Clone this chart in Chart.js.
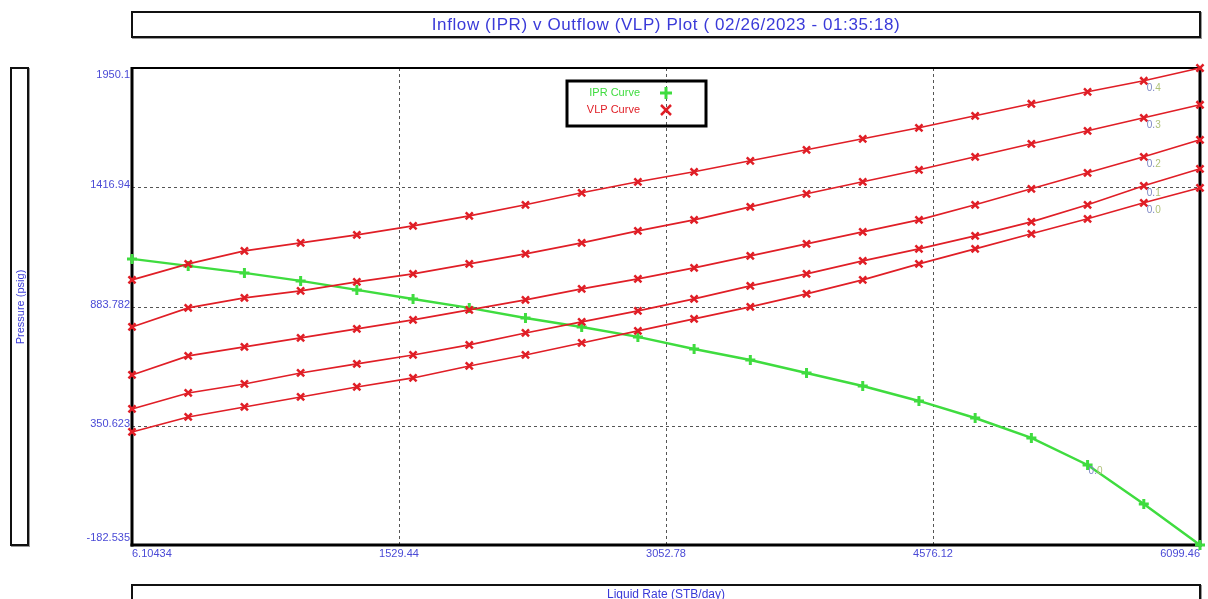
<!DOCTYPE html>
<html><head><meta charset="utf-8">
<script src="https://cdn.jsdelivr.net/npm/chart.js@4/dist/chart.umd.min.js"></script>
<style>
body{margin:0;background:#fff;width:1208px;height:599px;overflow:hidden;position:relative;font-family:"Liberation Sans",Arial,sans-serif;}
#c{position:absolute;left:0;top:0;}
.box{position:absolute;border:2px solid #111;box-shadow:1px 1px 0 #999;background:#fff;color:#3a3ad8;text-align:center;box-sizing:border-box;}
#title{left:131px;top:11px;width:1070px;height:27px;font-size:17px;letter-spacing:0.6px;line-height:23px;}
#ytitle{left:10px;top:67px;width:19px;height:479px;}
#ytitle span{position:absolute;left:50%;top:50%;transform:translate(-50%,-50%) rotate(-90deg);font-size:11px;white-space:nowrap;}
#xtitle{left:131px;top:584px;width:1070px;height:22px;font-size:12px;line-height:16px;}
</style></head>
<body>
<canvas id="c" width="1208" height="599"></canvas>
<div id="title" class="box">Inflow (IPR) v Outflow (VLP) Plot ( 02/26/2023 - 01:35:18)</div>
<div id="ytitle" class="box"><span>Pressure (psig)</span></div>
<div id="xtitle" class="box">Liquid Rate (STB/day)</div>
<script>
// ---- data ----
const liquidRates = [6.10, 326.81, 647.51, 968.21, 1288.92, 1609.62, 1930.32, 2251.03, 2571.73, 2892.43,
  3213.13, 3533.84, 3854.54, 4175.24, 4495.95, 4816.65, 5137.35, 5458.06, 5778.76, 6099.46];
const iprPressure = [1096.7, 1065.4, 1034.1, 998.3, 958.1, 917.8, 877.6, 832.8, 792.6, 747.9,
  694.2, 645.0, 586.8, 528.7, 461.6, 385.5, 296.1, 175.3, 0.9, -182.5];
const vlp04 = [1002.8, 1074.4, 1132.5, 1168.3, 1204.1, 1244.4, 1289.1, 1338.3, 1392.0, 1441.2,
  1485.9, 1535.1, 1584.3, 1633.5, 1682.7, 1736.4, 1790.1, 1843.7, 1892.9, 1950.1];
const vlp03 = [792.6, 877.6, 922.3, 953.6, 993.9, 1029.6, 1074.4, 1119.1, 1168.3, 1222.0,
  1271.2, 1329.3, 1387.5, 1441.2, 1494.8, 1553.0, 1611.1, 1669.3, 1727.4, 1785.6];
const vlp02 = [577.9, 662.9, 703.1, 743.4, 783.6, 823.9, 868.6, 913.4, 962.6, 1007.3,
  1056.5, 1110.2, 1163.8, 1217.5, 1271.2, 1338.3, 1409.9, 1481.4, 1553.0, 1629.0];
const vlp01 = [425.8, 497.4, 537.6, 586.8, 627.1, 667.3, 712.1, 765.7, 814.9, 864.2,
  917.8, 976.0, 1029.6, 1087.8, 1141.5, 1199.6, 1262.2, 1338.3, 1423.3, 1499.3];
const vlp00 = [322.9, 390.0, 434.7, 479.5, 524.2, 564.5, 618.1, 667.3, 721.0, 774.7,
  828.4, 882.0, 940.2, 1002.8, 1074.4, 1141.5, 1208.6, 1275.7, 1347.2, 1414.3];
const vlpSeries = [vlp04, vlp03, vlp02, vlp01, vlp00];
const vlpLabels = ['0.4', '0.3', '0.2', '0.1', '0.0'];
const iprPointLabel = '0.0';
const xTicks = [6.10434, 1529.44, 3052.78, 4576.12, 6099.46];
const xTickLabels = ['6.10434', '1529.44', '3052.78', '4576.12', '6099.46'];
const yTicks = [-182.535, 350.623, 883.782, 1416.94, 1950.1];
const yTickLabels = ['-182.535', '350.623', '883.782', '1416.94', '1950.1'];
const legendLabels = ['IPR Curve', 'VLP Curve'];

const RED = '#e01e26', GREEN = '#3fdc3f', BLUE = '#4a4ad6';
const toPts = arr => arr.map((v, i) => ({x: liquidRates[i], y: v}));

const datasets = vlpSeries.map(s => ({
  data: toPts(s), showLine: true, borderColor: RED, borderWidth: 1.6,
  pointStyle: 'crossRot', pointRadius: 5, pointBorderWidth: 2.5, pointBorderColor: RED,
  pointBackgroundColor: RED, clip: false
}));
datasets.push({
  data: toPts(iprPressure), showLine: true, borderColor: GREEN, borderWidth: 2.5,
  pointStyle: 'cross', pointRadius: 5, pointBorderWidth: 3, pointBorderColor: GREEN,
  pointBackgroundColor: GREEN, clip: false
});

function seg(ctx, x1, y1, x2, y2) { ctx.beginPath(); ctx.moveTo(x1, y1); ctx.lineTo(x2, y2); ctx.stroke(); }

const decor = {
  id: 'decor',
  beforeDatasetsDraw(chart) {
    const {ctx, chartArea: a, scales: {x, y}} = chart;
    ctx.save();
    ctx.strokeStyle = '#555'; ctx.lineWidth = 1; ctx.setLineDash([3, 3]);
    xTicks.slice(1, -1).forEach(v => { const p = Math.round(x.getPixelForValue(v)) + 0.5; seg(ctx, p, a.top, p, a.bottom); });
    yTicks.slice(1, -1).forEach(v => { const p = Math.round(y.getPixelForValue(v)) + 0.5; seg(ctx, a.left, p, a.right, p); });
    ctx.setLineDash([]);
    ctx.strokeStyle = '#000';
    ctx.lineWidth = 2; seg(ctx, a.left, a.top, a.right, a.top);
    ctx.lineWidth = 3;
    seg(ctx, a.left, a.top - 1, a.left, a.bottom + 1.5);
    seg(ctx, a.left - 1.5, a.bottom, a.right + 1.5, a.bottom);
    seg(ctx, a.right, a.top - 1, a.right, a.bottom + 1.5);
    // tick labels
    ctx.fillStyle = BLUE; ctx.font = '11px "Liberation Sans", Arial, sans-serif';
    ctx.textAlign = 'right';
    yTicks.forEach((v, i) => {
      let p = y.getPixelForValue(v);
      if (i === yTicks.length - 1) { ctx.textBaseline = 'top'; p += 1; }
      else if (i === 0) { ctx.textBaseline = 'bottom'; p -= 2; }
      else { ctx.textBaseline = 'middle'; p -= 2; }
      ctx.fillText(yTickLabels[i], a.left - 2, p);
    });
    ctx.textBaseline = 'top';
    xTicks.forEach((v, i) => {
      const p = x.getPixelForValue(v);
      ctx.textAlign = i === 0 ? 'left' : (i === xTicks.length - 1 ? 'right' : 'center');
      ctx.fillText(xTickLabels[i], p, a.bottom + 3);
    });
    ctx.restore();
  },
  afterDatasetsDraw(chart) {
    const {ctx, scales: {x, y}} = chart;
    ctx.save();
    ctx.font = '10px "Liberation Sans", Arial, sans-serif';
    ctx.textBaseline = 'middle'; ctx.textAlign = 'left';
    const twoTone = (txt, px, py) => {
      ctx.fillStyle = '#7c86c4'; ctx.fillText(txt.slice(0, 2), px, py);
      const w = ctx.measureText(txt.slice(0, 2)).width;
      ctx.fillStyle = '#b0c27a'; ctx.fillText(txt.slice(2), px + w, py);
    };
    vlpSeries.forEach((s, i) => {
      const px = x.getPixelForValue(liquidRates[18]);
      const py = y.getPixelForValue(s[18]);
      twoTone(vlpLabels[i], px + 3, py + 7);
    });
    {
      const px = x.getPixelForValue(liquidRates[17]);
      const py = y.getPixelForValue(iprPressure[17]);
      twoTone(iprPointLabel, px + 1, py + 6);
    }
    // legend
    ctx.strokeStyle = '#000'; ctx.lineWidth = 3;
    ctx.strokeRect(567, 81, 139, 45);
    ctx.font = '11px "Liberation Sans", Arial, sans-serif';
    ctx.textAlign = 'right';
    ctx.fillStyle = GREEN; ctx.fillText(legendLabels[0], 640, 93);
    ctx.fillStyle = RED; ctx.fillText(legendLabels[1], 640, 110);
    ctx.lineWidth = 3; ctx.strokeStyle = GREEN;
    seg(ctx, 660, 93, 672, 93); seg(ctx, 666, 87, 666, 99);
    ctx.lineWidth = 2.5; ctx.strokeStyle = RED;
    seg(ctx, 661, 105, 671, 115); seg(ctx, 661, 115, 671, 105);
    ctx.restore();
  }
};

new Chart(document.getElementById('c'), {
  type: 'scatter',
  data: {datasets},
  options: {
    responsive: false, animation: false,
    layout: {padding: {left: 132, top: 68, right: 8, bottom: 54}},
    plugins: {legend: {display: false}, tooltip: {enabled: false}},
    scales: {
      x: {type: 'linear', display: false, min: xTicks[0], max: xTicks[4]},
      y: {type: 'linear', display: false, min: yTicks[0], max: yTicks[4]}
    }
  },
  plugins: [decor]
});
</script>
</body></html>
